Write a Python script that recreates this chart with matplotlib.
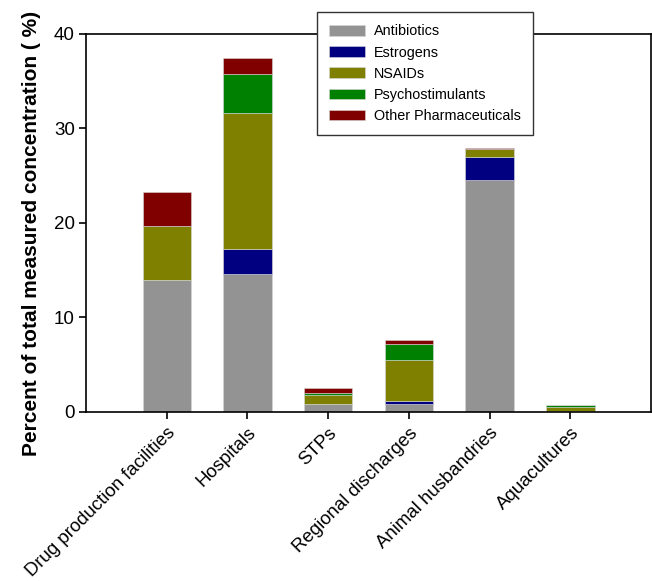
import matplotlib
matplotlib.use("Agg")
import matplotlib.pyplot as plt
import matplotlib.transforms as mtransforms
import numpy as np

plt.rcParams['font.family'] = ['Liberation Sans', 'DejaVu Sans']

categories = ["Drug production facilities", "Hospitals", "STPs",
              "Regional discharges", "Animal husbandries", "Aquacultures"]
series_names = ["Antibiotics", "Estrogens", "NSAIDs", "Psychostimulants", "Other Pharmaceuticals"]
antibiotics = [14.0, 14.6, 0.8, 0.88, 24.6, 0.07]
estrogens = [0.0, 2.7, 0.0, 0.28, 2.35, 0.0]
nsaids = [5.7, 14.3, 1.0, 4.34, 0.85, 0.5]
psychostimulants = [0.0, 4.2, 0.25, 1.7, 0.0, 0.17]
other = [3.6, 1.7, 0.45, 0.4, 0.15, 0.0]
colors = ["#939393", "#000080", "#808000", "#008000", "#800000"]

fig = plt.figure(figsize=(6.52, 5.81), dpi=100)
ax = fig.add_axes([0.1319, 0.2909, 0.8666, 0.6506])

x = np.arange(len(categories))
bottom = np.zeros(len(categories))
for name, vals, c in zip(series_names, [antibiotics, estrogens, nsaids, psychostimulants, other], colors):
    vals = np.array(vals)
    ax.bar(x, vals, width=0.6, bottom=bottom, color=c, label=name,
           edgecolor='#d8d8d8', linewidth=0.4)
    bottom += vals

ax.set_xlim(-1, 6)
ax.set_ylim(0, 40)
ax.set_yticks([0, 10, 20, 30, 40])
ax.set_xticks(x)
ax.set_xticklabels(categories, rotation=45, ha='right', rotation_mode='anchor', fontsize=13.4)
offset = mtransforms.ScaledTranslation(-7 / 100, 2 / 100, fig.dpi_scale_trans)
for lab in ax.get_xticklabels():
    lab.set_transform(lab.get_transform() + offset)
ax.tick_params(axis='y', labelsize=13.5, direction='out', length=5, width=1.2, pad=3)
ax.tick_params(axis='x', direction='out', length=5, width=1.2, pad=4)
for s in ax.spines.values():
    s.set_linewidth(1.2)
ax.set_ylabel("Percent of total measured concentration ( %)", fontsize=15, fontweight='bold')
ax.yaxis.set_label_coords(-0.08, 0.472)

leg = fig.legend(loc='upper left', bbox_to_anchor=(317/652, 1 - 12/581), fontsize=10.4,
                 frameon=True, fancybox=False, edgecolor='#333333', framealpha=1,
                 handlelength=2.5, handleheight=0.75, handletextpad=0.6,
                 borderpad=0.85, labelspacing=0.5, borderaxespad=0)
leg.get_frame().set_linewidth(1.0)

fig.savefig("out.png", dpi=100)
